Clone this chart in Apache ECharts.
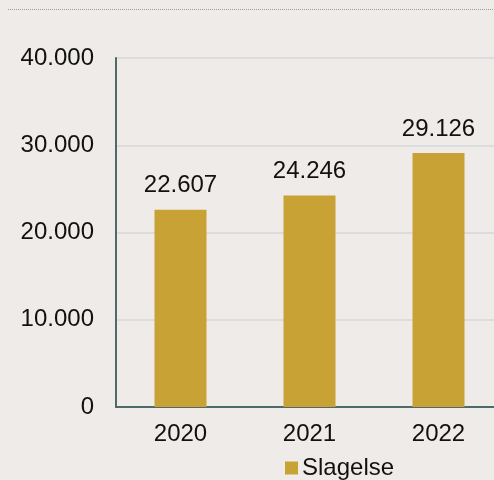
<!DOCTYPE html>
<html>
<head>
<meta charset="utf-8">
<script src="https://cdn.jsdelivr.net/npm/echarts@6/dist/echarts.min.js"></script>
<style>
  html, body { margin: 0; padding: 0; background: #efebe8; }
  #chart { width: 494px; height: 480px; }
</style>
</head>
<body>
<div id="chart"></div>
<script>
// Years on the category axis
const years = ['2020', '2021', '2022'];
// Values per year for Slagelse
const slagelse = [22607, 24246, 29126];
// Value axis range and step
const yMin = 0;
const yMax = 40000;
const yStep = 10000;
const seriesName = 'Slagelse';

// Danish-style thousands separator: 22607 -> "22.607"
function fmt(v) {
  return String(v).replace(/\B(?=(\d{3})+(?!\d))/g, '.');
}

const font = 'Liberation Sans, Arial, sans-serif';
const chart = echarts.init(document.getElementById('chart'), null, { renderer: 'canvas' });

chart.setOption({
  backgroundColor: '#efebe8',
  animation: false,
  textStyle: { fontFamily: font },
  // plot area runs past the right edge of the canvas
  grid: { left: 116, width: 387, top: 58, bottom: 73, containLabel: false, outerBoundsMode: 'none' },
  graphic: [{
    type: 'line',
    shape: { x1: 8, y1: 9.5, x2: 494, y2: 9.5 },
    style: { stroke: '#9a9a9a', lineWidth: 1, lineDash: [1, 1] }
  }],
  legend: {
    data: [seriesName],
    top: 451,
    left: 280,
    itemWidth: 13,
    itemHeight: 13,
    itemGap: 4,
    icon: 'rect',
    textStyle: { fontSize: 24, color: '#111', fontFamily: font, padding: [0, 0, 0, -1] }
  },
  xAxis: {
    type: 'category',
    data: years,
    axisLine: { show: true, lineStyle: { color: '#4f6b68', width: 2 } },
    axisTick: { show: false },
    axisLabel: { fontSize: 24, color: '#111', margin: 15, fontFamily: font },
    splitLine: { show: false }
  },
  yAxis: {
    type: 'value',
    min: yMin,
    max: yMax,
    interval: yStep,
    axisLine: { show: true, lineStyle: { color: '#4f6b68', width: 2 } },
    axisTick: { show: false },
    axisLabel: { fontSize: 24, color: '#111', margin: 22, formatter: fmt, fontFamily: font },
    splitLine: { show: true, lineStyle: { color: '#dcdcdf', width: 2 } }
  },
  series: [{
    name: seriesName,
    type: 'bar',
    data: slagelse,
    barWidth: 52,
    itemStyle: { color: '#c9a235' },
    label: {
      show: true,
      position: 'top',
      distance: 12,
      fontSize: 24,
      color: '#111',
      fontFamily: font,
      formatter: p => fmt(p.value)
    }
  }]
});
</script>
</body>
</html>
